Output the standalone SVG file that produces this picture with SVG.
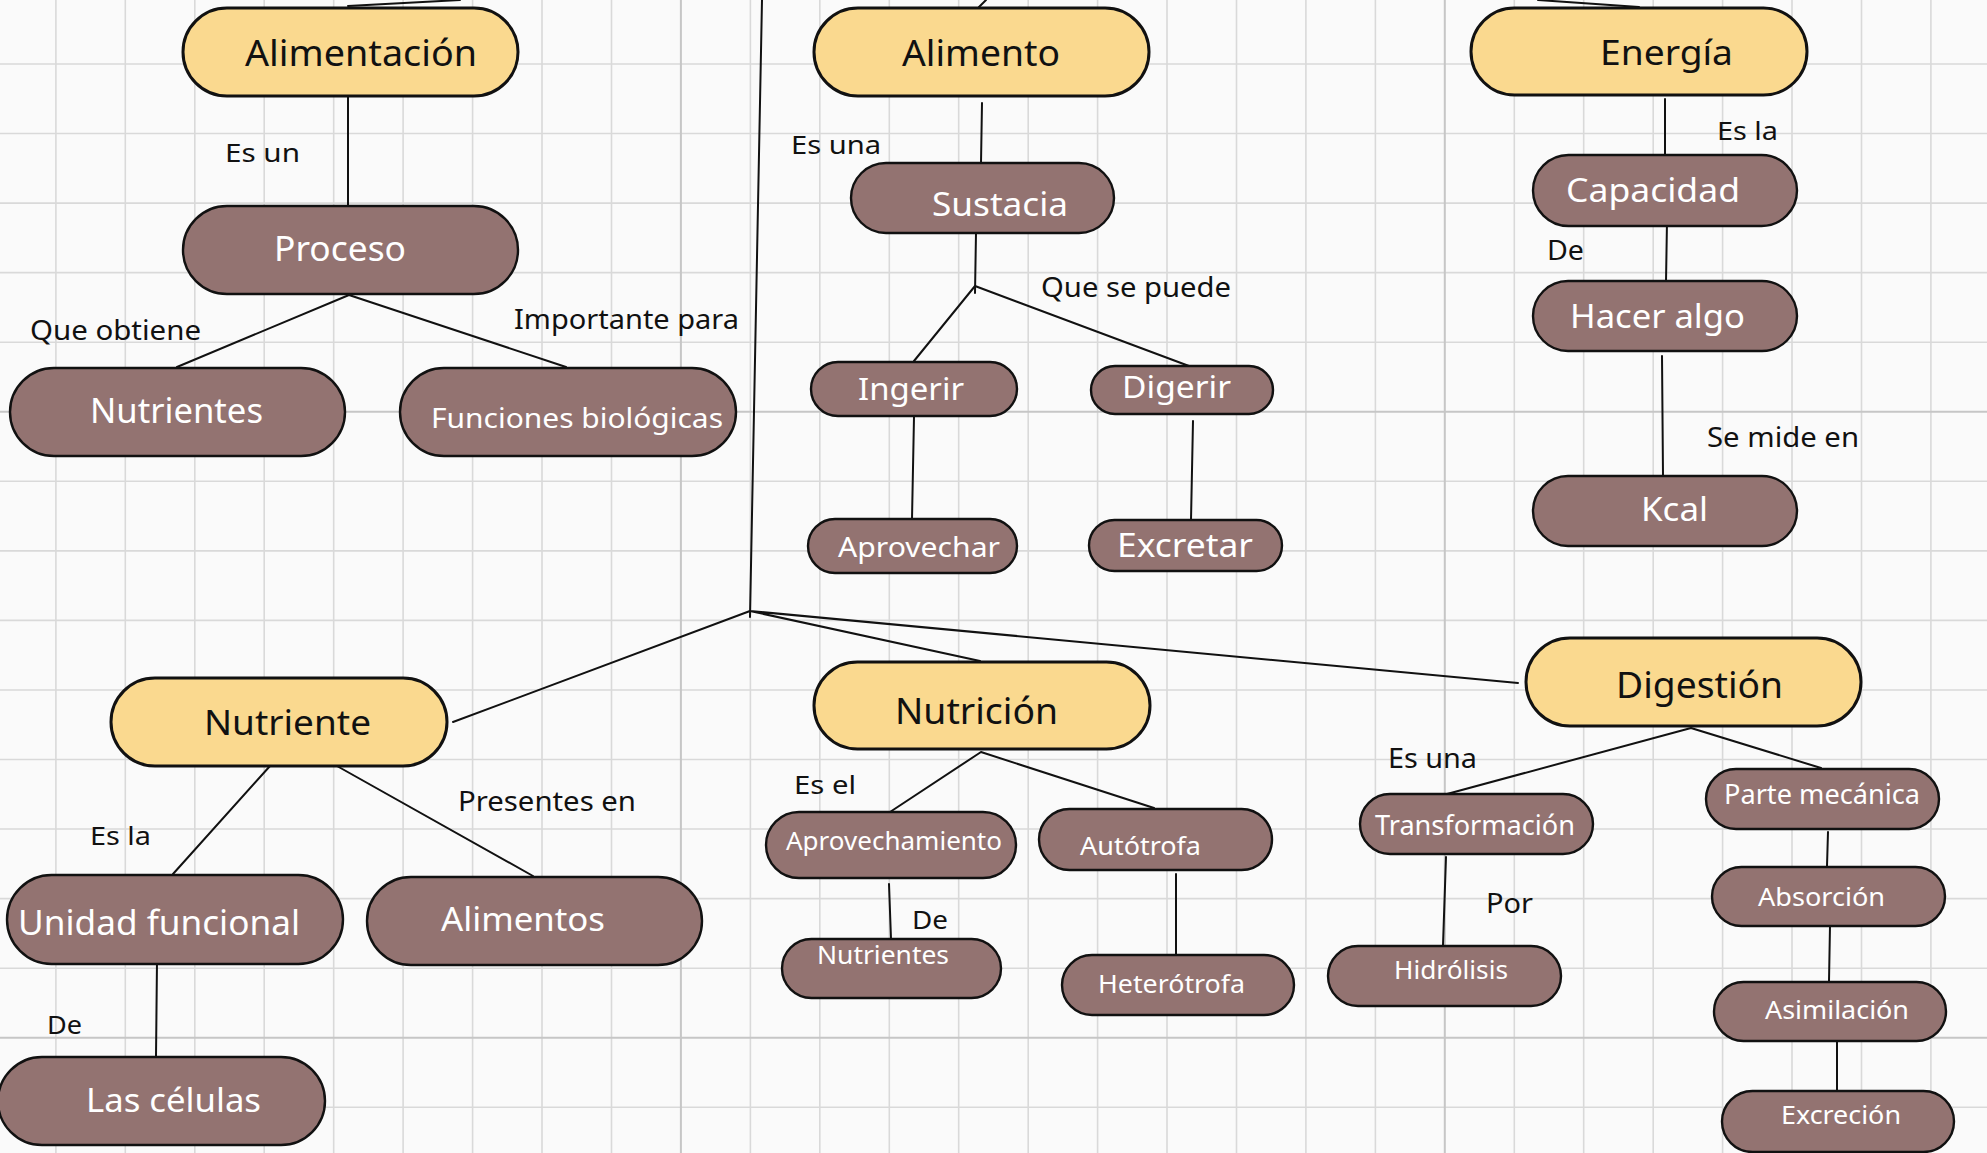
<svg xmlns="http://www.w3.org/2000/svg" width="1987" height="1153" viewBox="0 0 1987 1153">
<style>
.bg{fill:#fafafa}
.grid{stroke:#d9d9d9;stroke-width:1.6;fill:none}
.gridd{stroke:#c6c6c6;stroke-width:2;fill:none}
.y{fill:#fad98f;stroke:#111;stroke-width:3}
.b{fill:#937371;stroke:#111;stroke-width:2.4}
.c{stroke:#111;stroke-width:2;fill:none;stroke-linecap:round}
text{font-family:"Noto Sans","Open Sans","DejaVu Sans",sans-serif}
.ty{fill:#111}
.tb{fill:#ffffff}
.lb{fill:#111}
</style>
<rect class="bg" x="0" y="0" width="1987" height="1153"/>
<g id="grid">
<path class="grid" d="M55.9 0V1153M125.3 0V1153M194.8 0V1153M264.2 0V1153M333.7 0V1153M403.1 0V1153M472.6 0V1153M542 0V1153M611.5 0V1153M750.4 0V1153M819.8 0V1153M889.3 0V1153M958.7 0V1153M1028.2 0V1153M1097.6 0V1153M1167 0V1153M1236.5 0V1153M1305.9 0V1153M1375.4 0V1153M1514.3 0V1153M1583.7 0V1153M1653.2 0V1153M1722.6 0V1153M1792 0V1153M1861.5 0V1153M1930.9 0V1153"/>
<path class="grid" d="M0 64H1987M0 133.5H1987M0 203.1H1987M0 272.6H1987M0 342.2H1987M0 481.3H1987M0 550.9H1987M0 620.4H1987M0 690H1987M0 759.5H1987M0 829H1987M0 898.6H1987M0 968.2H1987M0 1107.3H1987"/>
<path class="gridd" d="M680.9 0V1153M1444.8 0V1153M0 411.8H1987M0 1037.7H1987"/>
</g>
<g id="connectors">
<path class="c" d="M348 6L460 0"/>
<path class="c" d="M762 0L750 617"/>
<path class="c" d="M979 7L986 0"/>
<path class="c" d="M1538 0L1639 7"/>
<path class="c" d="M348 91V206"/>
<path class="c" d="M349 295L177 367M349 295L566 367"/>
<path class="c" d="M982 103L981 163"/>
<path class="c" d="M976 233L975 293"/>
<path class="c" d="M975 286L914 361M975 286L1189 366"/>
<path class="c" d="M914 417L912 519"/>
<path class="c" d="M1193 421L1191 520"/>
<path class="c" d="M1665 99V157"/>
<path class="c" d="M1667 221L1666 282"/>
<path class="c" d="M1662 356L1663 476"/>
<path class="c" d="M750 611L453 722M750 611L980 661M750 611L1518 683"/>
<path class="c" d="M270 766L173 874M337 766L533 876"/>
<path class="c" d="M157 961L156 1057"/>
<path class="c" d="M981 752L890 812M981 752L1154 808"/>
<path class="c" d="M889 884L891 939"/>
<path class="c" d="M1176 874V954"/>
<path class="c" d="M1691 728L1447 794M1691 728L1821 768"/>
<path class="c" d="M1446 857L1443 945"/>
<path class="c" d="M1828 832L1827 866"/>
<path class="c" d="M1830 926L1829 981"/>
<path class="c" d="M1837 1042V1091"/>
</g>
<g id="labels">
<text class="lb" x="225" y="162" font-size="26" textLength="75" lengthAdjust="spacingAndGlyphs">Es un</text>
<text class="lb" x="30" y="340" font-size="27" textLength="171" lengthAdjust="spacingAndGlyphs">Que obtiene</text>
<text class="lb" x="514" y="329" font-size="27" textLength="225" lengthAdjust="spacingAndGlyphs">Importante para</text>
<text class="lb" x="791" y="154" font-size="26" textLength="90" lengthAdjust="spacingAndGlyphs">Es una</text>
<text class="lb" x="1041" y="297" font-size="27" textLength="190" lengthAdjust="spacingAndGlyphs">Que se puede</text>
<text class="lb" x="1717" y="140" font-size="26" textLength="61" lengthAdjust="spacingAndGlyphs">Es la</text>
<text class="lb" x="1547" y="260" font-size="27" textLength="37" lengthAdjust="spacingAndGlyphs">De</text>
<text class="lb" x="1707" y="447" font-size="27" textLength="152" lengthAdjust="spacingAndGlyphs">Se mide en</text>
<text class="lb" x="90" y="845" font-size="26" textLength="61" lengthAdjust="spacingAndGlyphs">Es la</text>
<text class="lb" x="458" y="811" font-size="27" textLength="178" lengthAdjust="spacingAndGlyphs">Presentes en</text>
<text class="lb" x="47" y="1034" font-size="26" textLength="35" lengthAdjust="spacingAndGlyphs">De</text>
<text class="lb" x="794" y="794" font-size="26" textLength="62" lengthAdjust="spacingAndGlyphs">Es el</text>
<text class="lb" x="912" y="929" font-size="26" textLength="36" lengthAdjust="spacingAndGlyphs">De</text>
<text class="lb" x="1388" y="768" font-size="27" textLength="89" lengthAdjust="spacingAndGlyphs">Es una</text>
<text class="lb" x="1486" y="913" font-size="27" textLength="47" lengthAdjust="spacingAndGlyphs">Por</text>
</g>
<g id="n-alimentacion"><rect class="y" x="183" y="8" width="335" height="88" rx="44"/><text class="ty" x="245" y="66" font-size="37" textLength="232" lengthAdjust="spacingAndGlyphs">Alimentación</text></g>
<g id="n-alimento"><rect class="y" x="814" y="8" width="335" height="88" rx="44"/><text class="ty" x="902" y="66" font-size="36" textLength="158" lengthAdjust="spacingAndGlyphs">Alimento</text></g>
<g id="n-energia"><rect class="y" x="1471" y="8" width="336" height="87" rx="43.5"/><text class="ty" x="1600" y="65" font-size="34" textLength="133" lengthAdjust="spacingAndGlyphs">Energía</text></g>
<g id="n-proceso"><rect class="b" x="183" y="206" width="335" height="88" rx="44"/><text class="tb" x="274" y="261" font-size="34" textLength="132" lengthAdjust="spacingAndGlyphs">Proceso</text></g>
<g id="n-nutrientes"><rect class="b" x="10" y="368" width="335" height="88" rx="44"/><text class="tb" x="90" y="423" font-size="34" textLength="173" lengthAdjust="spacingAndGlyphs">Nutrientes</text></g>
<g id="n-funciones"><rect class="b" x="400" y="368" width="336" height="88" rx="44"/><text class="tb" x="431" y="428" font-size="28" textLength="292" lengthAdjust="spacingAndGlyphs">Funciones biológicas</text></g>
<g id="n-sustacia"><rect class="b" x="851" y="163" width="263" height="70" rx="35"/><text class="tb" x="932" y="216" font-size="32" textLength="136" lengthAdjust="spacingAndGlyphs">Sustacia</text></g>
<g id="n-ingerir"><rect class="b" x="811" y="362" width="206" height="54" rx="27"/><text class="tb" x="858" y="400" font-size="30" textLength="106" lengthAdjust="spacingAndGlyphs">Ingerir</text></g>
<g id="n-digerir"><rect class="b" x="1091" y="366" width="182" height="48" rx="24"/><text class="tb" x="1122" y="398" font-size="30" textLength="109" lengthAdjust="spacingAndGlyphs">Digerir</text></g>
<g id="n-aprovechar"><rect class="b" x="808" y="519" width="209" height="54" rx="27"/><text class="tb" x="838" y="557" font-size="28" textLength="162" lengthAdjust="spacingAndGlyphs">Aprovechar</text></g>
<g id="n-excretar"><rect class="b" x="1089" y="520" width="193" height="51" rx="25.5"/><text class="tb" x="1117" y="557" font-size="32" textLength="136" lengthAdjust="spacingAndGlyphs">Excretar</text></g>
<g id="n-capacidad"><rect class="b" x="1533" y="155" width="264" height="71" rx="35.5"/><text class="tb" x="1566" y="202" font-size="33" textLength="174" lengthAdjust="spacingAndGlyphs">Capacidad</text></g>
<g id="n-hacer"><rect class="b" x="1533" y="281" width="264" height="70" rx="35"/><text class="tb" x="1570" y="328" font-size="33" textLength="175" lengthAdjust="spacingAndGlyphs">Hacer algo</text></g>
<g id="n-kcal"><rect class="b" x="1533" y="476" width="264" height="70" rx="35"/><text class="tb" x="1641" y="521" font-size="33" textLength="67" lengthAdjust="spacingAndGlyphs">Kcal</text></g>
<g id="n-nutriente"><rect class="y" x="111" y="678" width="336" height="88" rx="44"/><text class="ty" x="204" y="735" font-size="35" textLength="167" lengthAdjust="spacingAndGlyphs">Nutriente</text></g>
<g id="n-unidad"><rect class="b" x="7" y="875" width="336" height="89" rx="44.5"/><text class="tb" x="18" y="935" font-size="34" textLength="282" lengthAdjust="spacingAndGlyphs">Unidad funcional</text></g>
<g id="n-alimentos"><rect class="b" x="367" y="877" width="335" height="88" rx="44"/><text class="tb" x="441" y="931" font-size="33" textLength="164" lengthAdjust="spacingAndGlyphs">Alimentos</text></g>
<g id="n-celulas"><rect class="b" x="-2" y="1057" width="327" height="88" rx="44"/><text class="tb" x="86" y="1112" font-size="33" textLength="175" lengthAdjust="spacingAndGlyphs">Las células</text></g>
<g id="n-nutricion"><rect class="y" x="814" y="662" width="336" height="87" rx="43.5"/><text class="ty" x="895" y="724" font-size="36" textLength="163" lengthAdjust="spacingAndGlyphs">Nutrición</text></g>
<g id="n-aprovechamiento"><rect class="b" x="766" y="812" width="250" height="66" rx="33"/><text class="tb" x="786" y="850" font-size="26" textLength="216" lengthAdjust="spacingAndGlyphs">Aprovechamiento</text></g>
<g id="n-autotrofa"><rect class="b" x="1039" y="809" width="233" height="61" rx="30.5"/><text class="tb" x="1080" y="855" font-size="26" textLength="121" lengthAdjust="spacingAndGlyphs">Autótrofa</text></g>
<g id="n-nutrientes2"><rect class="b" x="782" y="939" width="219" height="59" rx="29.5"/><text class="tb" x="817" y="964" font-size="25" textLength="132" lengthAdjust="spacingAndGlyphs">Nutrientes</text></g>
<g id="n-heterotrofa"><rect class="b" x="1062" y="955" width="232" height="60" rx="30"/><text class="tb" x="1098" y="993" font-size="26" textLength="147" lengthAdjust="spacingAndGlyphs">Heterótrofa</text></g>
<g id="n-digestion"><rect class="y" x="1526" y="638" width="335" height="88" rx="44"/><text class="ty" x="1616" y="698" font-size="36" textLength="167" lengthAdjust="spacingAndGlyphs">Digestión</text></g>
<g id="n-transformacion"><rect class="b" x="1360" y="794" width="233" height="60" rx="30"/><text class="tb" x="1375" y="835" font-size="27" textLength="200" lengthAdjust="spacingAndGlyphs">Transformación</text></g>
<g id="n-parte"><rect class="b" x="1706" y="769" width="233" height="60" rx="30"/><text class="tb" x="1724" y="804" font-size="27" textLength="196" lengthAdjust="spacingAndGlyphs">Parte mecánica</text></g>
<g id="n-hidrolisis"><rect class="b" x="1328" y="946" width="233" height="60" rx="30"/><text class="tb" x="1394" y="979" font-size="26" textLength="114" lengthAdjust="spacingAndGlyphs">Hidrólisis</text></g>
<g id="n-absorcion"><rect class="b" x="1712" y="867" width="233" height="59" rx="29.5"/><text class="tb" x="1758" y="906" font-size="26" textLength="127" lengthAdjust="spacingAndGlyphs">Absorción</text></g>
<g id="n-asimilacion"><rect class="b" x="1714" y="982" width="232" height="59" rx="29.5"/><text class="tb" x="1765" y="1019" font-size="26" textLength="144" lengthAdjust="spacingAndGlyphs">Asimilación</text></g>
<g id="n-excrecion"><rect class="b" x="1722" y="1091" width="232" height="61" rx="30.5"/><text class="tb" x="1781" y="1124" font-size="26" textLength="120" lengthAdjust="spacingAndGlyphs">Excreción</text></g>
</svg>
